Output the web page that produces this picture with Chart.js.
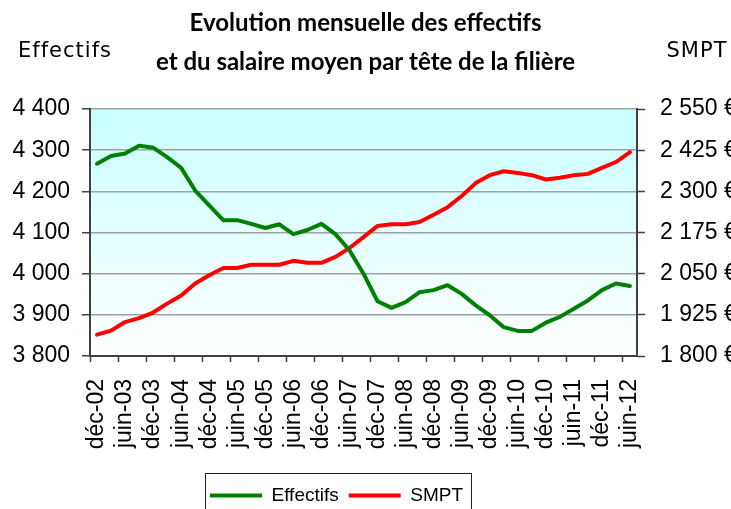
<!DOCTYPE html>
<html>
<head>
<meta charset="utf-8">
<script src="https://cdn.jsdelivr.net/npm/chart.js@4/dist/chart.umd.min.js"></script>
<style>
  html, body { margin: 0; padding: 0; background: #fff; }
  #wrap { width: 731px; height: 509px; }
</style>
</head>
<body>
<div id="wrap"><canvas id="c" width="731" height="509"></canvas></div>
<script>
// Quarterly periods, December 2002 to June 2012
const periods = [
  'déc-02', 'mars-03', 'juin-03', 'sept-03',
  'déc-03', 'mars-04', 'juin-04', 'sept-04',
  'déc-04', 'mars-05', 'juin-05', 'sept-05',
  'déc-05', 'mars-06', 'juin-06', 'sept-06',
  'déc-06', 'mars-07', 'juin-07', 'sept-07',
  'déc-07', 'mars-08', 'juin-08', 'sept-08',
  'déc-08', 'mars-09', 'juin-09', 'sept-09',
  'déc-09', 'mars-10', 'juin-10', 'sept-10',
  'déc-10', 'mars-11', 'juin-11', 'sept-11',
  'déc-11', 'mars-12', 'juin-12'
];

// Headcount (left axis)
const effectifs = [
  4267, 4286, 4292, 4311, 4306, 4283, 4257, 4202, 4166, 4130,
  4130, 4121, 4111, 4120, 4096, 4106, 4121, 4096, 4057, 4000,
  3933, 3917, 3931, 3955, 3960, 3972, 3951, 3923, 3899, 3870,
  3861, 3861, 3881, 3895, 3915, 3935, 3960, 3976, 3970
];

// Average wage per head, euros (right axis)
const smpt = [
  1865, 1877, 1903, 1915, 1932, 1959, 1984, 2020, 2045, 2067,
  2067, 2077, 2077, 2077, 2089, 2083, 2083, 2101, 2128, 2161,
  2195, 2200, 2200, 2207, 2229, 2252, 2286, 2325, 2349, 2361,
  2356, 2349, 2336, 2341, 2349, 2353, 2371, 2389, 2419
];

const leftRange = { min: 3800, max: 4400, step: 100 };
const rightRange = { min: 1800, max: 2550, step: 125 };

const titleLines = ['Evolution mensuelle des effectifs', 'et du salaire moyen par tête de la filière'];
const leftAxisName = 'Effectifs';
const rightAxisName = 'SMPT';

const AXIS = '#404040';
const TICK_FONT = { family: '"Liberation Sans", Arial, sans-serif', size: 23 };

function spaced(v) {
  return String(v).replace(/\B(?=(\d{3})+(?!\d))/g, ' ');
}

// Cyan-to-white wash behind the plot area
const backdrop = {
  id: 'backdrop',
  beforeDraw(chart) {
    const { ctx, chartArea: a } = chart;
    ctx.save();
    ctx.fillStyle = '#ffffff';
    ctx.fillRect(0, 0, chart.width, chart.height);
    const g = ctx.createLinearGradient(0, a.top, 0, a.bottom);
    g.addColorStop(0, '#c8ffff');
    g.addColorStop(1, '#ffffff');
    ctx.fillStyle = g;
    ctx.fillRect(a.left, a.top, a.right - a.left, a.bottom - a.top);
    ctx.restore();
  }
};

// Axis captions written above each value axis
const axisNames = {
  id: 'axisNames',
  afterDraw(chart) {
    const ctx = chart.ctx;
    ctx.save();
    ctx.font = '21px "DejaVu Sans", sans-serif';
    ctx.letterSpacing = '1px';
    ctx.fillStyle = '#000';
    ctx.textAlign = 'center';
    ctx.textBaseline = 'middle';
    ctx.fillText(leftAxisName, 65, 52);
    ctx.fillText(rightAxisName, 697, 52);
    ctx.restore();
  }
};

// Legend placement and its framing box
const legendFrame = {
  id: 'legendFrame',
  afterLayout(chart) {
    const lg = chart.legend;
    lg.left -= 29; lg.right -= 29;
    lg.top += 6; lg.bottom += 6;
  },
  afterDraw(chart) {
    const hb = chart.legend.legendHitBoxes;
    if (!hb || !hb.length) return;
    const l = Math.min(...hb.map(h => h.left)) - 5;
    const r = Math.max(...hb.map(h => h.left + h.width)) + 8;
    const t = hb[0].top - 13;
    const ctx = chart.ctx;
    ctx.save();
    ctx.strokeStyle = '#202020';
    ctx.lineWidth = 1;
    ctx.strokeRect(Math.round(l) + 0.5, Math.round(t) + 0.5, Math.round(r - l), chart.height - t + 10);
    ctx.restore();
  }
};

new Chart(document.getElementById('c'), {
  type: 'line',
  data: {
    labels: periods,
    datasets: [
      {
        label: 'Effectifs',
        data: effectifs,
        yAxisID: 'y',
        borderColor: '#008000',
        backgroundColor: '#008000',
        borderWidth: 4,
        pointRadius: 0,
        tension: 0,
        borderJoinStyle: 'round',
        borderCapStyle: 'round'
      },
      {
        label: 'SMPT',
        data: smpt,
        yAxisID: 'y1',
        borderColor: '#ff0000',
        backgroundColor: '#ff0000',
        borderWidth: 4,
        pointRadius: 0,
        tension: 0,
        borderJoinStyle: 'round',
        borderCapStyle: 'round'
      }
    ]
  },
  options: {
    responsive: false,
    animation: false,
    devicePixelRatio: 1,
    layout: { padding: 0 },
    plugins: {
      title: {
        display: true,
        text: titleLines,
        color: '#000',
        font: { family: 'Lato, sans-serif', size: 24, weight: 'bold', lineHeight: '39px' },
        padding: { top: 4, bottom: 27 }
      },
      legend: {
        display: true,
        position: 'bottom',
        labels: {
          usePointStyle: true,
          pointStyle: 'line',
          pointStyleWidth: 52,
          color: '#000',
          padding: 10,
          font: { family: '"Liberation Sans", Arial, sans-serif', size: 19 }
        }
      },
      tooltip: { enabled: false }
    },
    scales: {
      x: {
        type: 'category',
        offset: true,
        afterFit(scale) { scale.height = 114; },
        grid: {
          drawOnChartArea: false,
          offset: true,
          tickLength: 6,
          tickWidth: 1.5,
          tickColor: (c) => (c.type === 'tick' && c.index % 2 === 0) ? AXIS : 'rgba(0,0,0,0)'
        },
        border: { color: AXIS, width: 2 },
        ticks: {
          autoSkip: false,
          minRotation: 90,
          maxRotation: 90,
          padding: 17,
          color: '#000',
          font: TICK_FONT,
          callback: function (value, index) {
            return index % 2 === 0 ? this.getLabelForValue(value) : '';
          }
        }
      },
      y: {
        position: 'left',
        min: leftRange.min,
        max: leftRange.max,
        afterFit(scale) { scale.width = 90; },
        grid: { color: '#a0a0a0', lineWidth: 1.5, tickLength: 8, tickColor: AXIS, tickWidth: 1.5 },
        border: { color: AXIS, width: 2 },
        ticks: {
          stepSize: leftRange.step,
          padding: 12,
          color: '#000',
          font: TICK_FONT,
          callback: (v) => spaced(v)
        }
      },
      y1: {
        position: 'right',
        min: rightRange.min,
        max: rightRange.max,
        afterFit(scale) { scale.width = 94; },
        grid: { drawOnChartArea: false, tickLength: 8, tickColor: AXIS, tickWidth: 1.5 },
        border: { color: AXIS, width: 2 },
        ticks: {
          stepSize: rightRange.step,
          padding: 15,
          color: '#000',
          font: TICK_FONT,
          callback: (v) => spaced(v) + ' €'
        }
      }
    }
  },
  plugins: [backdrop, axisNames, legendFrame]
});
</script>
</body>
</html>
